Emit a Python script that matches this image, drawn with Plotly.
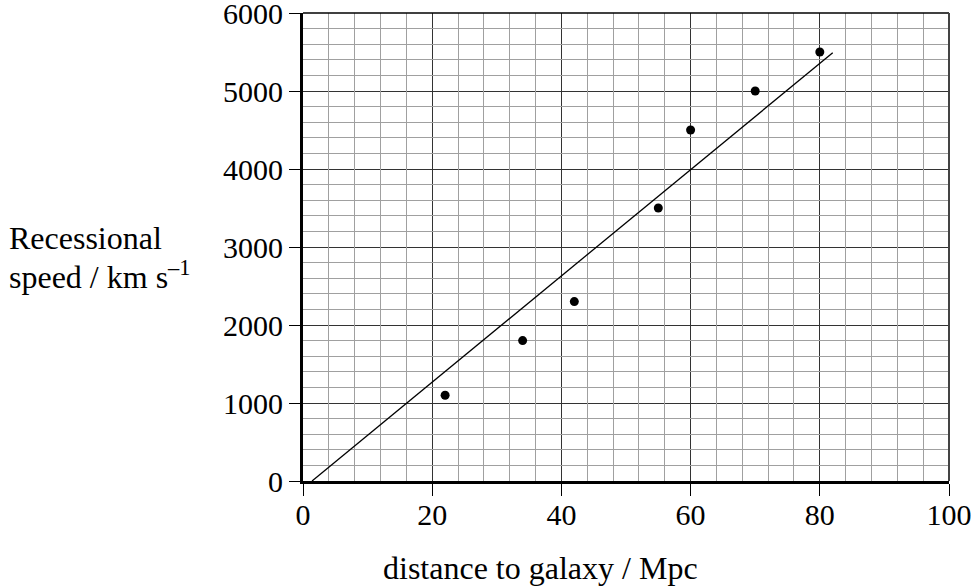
import plotly.graph_objects as go

# Data
distance_mpc = [22, 34, 42, 55, 60, 70, 80]
speed_kms = [1100, 1800, 2300, 3500, 4500, 5000, 5500]

# Best-fit line drawn by hand on the reference (end points)
fit_x = [1.4, 82]
fit_y = [0, 5490]

x_ticks = [0, 20, 40, 60, 80, 100]
y_ticks = [0, 1000, 2000, 3000, 4000, 5000, 6000]

FONT = "Liberation Serif, Times New Roman, serif"

# fine graph-paper grid (every 4 Mpc, every 200 km/s), skipping the major lines
x_minor = [v for v in range(0, 101, 4) if v % 20 != 0]
y_minor = [v for v in range(0, 6001, 200) if v % 1000 != 0]

fig = go.Figure()
# empty trace to create the overlay axes used for the fine grid
fig.add_trace(go.Scatter(x=[], y=[], xaxis="x2", yaxis="y2", showlegend=False,
                         hoverinfo="skip"))
fig.add_trace(go.Scatter(x=fit_x, y=fit_y, mode="lines",
                         line=dict(color="black", width=1.3),
                         showlegend=False, hoverinfo="skip"))
fig.add_trace(go.Scatter(x=distance_mpc, y=speed_kms, mode="markers",
                         marker=dict(color="black", size=9),
                         showlegend=False))

fig.update_layout(
    width=977, height=587,
    margin=dict(l=303, r=28, t=13, b=106),
    paper_bgcolor="white", plot_bgcolor="white",
    font=dict(family=FONT, size=30, color="black"),
    xaxis=dict(
        range=[0, 100], tickmode="array", tickvals=x_ticks, ticktext=[str(v) for v in x_ticks],
        showgrid=True, gridcolor="#333333", gridwidth=1,
        showline=True, linecolor="black", linewidth=3,
        ticks="outside", ticklen=12, tickwidth=1.2, tickcolor="black",
        zeroline=False, fixedrange=True, ticklabeloverflow="allow",
        automargin=False, ticklabelstandoff=-7,
        tickfont=dict(family=FONT, size=30, color="black"),
    ),
    yaxis=dict(
        range=[0, 6000], tickmode="array", tickvals=y_ticks, ticktext=[str(v) for v in y_ticks],
        showgrid=True, gridcolor="#333333", gridwidth=1,
        showline=True, linecolor="black", linewidth=3,
        ticks="outside", ticklen=11, tickwidth=1.2, tickcolor="black",
        zeroline=False, fixedrange=True, ticklabeloverflow="allow",
        automargin=False,
        tickfont=dict(family=FONT, size=30, color="black"),
    ),
    xaxis2=dict(
        range=[0, 100], overlaying="x", anchor="y2", tickmode="array", tickvals=x_minor,
        showgrid=True, gridcolor="#a0a0a0", gridwidth=1, showticklabels=False,
        ticks="", showline=False, zeroline=False, fixedrange=True, automargin=False,
    ),
    yaxis2=dict(
        range=[0, 6000], overlaying="y", anchor="x2", tickmode="array", tickvals=y_minor,
        showgrid=True, gridcolor="#a0a0a0", gridwidth=1, showticklabels=False,
        ticks="", showline=False, zeroline=False, fixedrange=True, automargin=False,
    ),
    annotations=[
        dict(text="Recessional",
             xref="paper", yref="paper", x=-0.458, y=0.519, xanchor="left", yanchor="middle",
             align="left", showarrow=False,
             font=dict(family=FONT, size=32, color="black")),
        dict(text="speed / km s<sup>–1</sup>",
             xref="paper", yref="paper", x=-0.458, y=0.440, xanchor="left", yanchor="middle",
             align="left", showarrow=False,
             font=dict(family=FONT, size=32, color="black")),
        dict(text="distance to galaxy / Mpc",
             xref="paper", yref="paper", x=0.368, y=-0.186, xanchor="center", yanchor="middle",
             showarrow=False,
             font=dict(family=FONT, size=32, color="black")),
    ],
)

# top and right frame lines (thin)
fig.add_shape(type="line", xref="paper", yref="paper", x0=0, x1=1, y0=1, y1=1,
              line=dict(color="black", width=1.5))
fig.add_shape(type="line", xref="paper", yref="paper", x0=1, x1=1, y0=0, y1=1,
              line=dict(color="#444444", width=2))

fig.write_html("out.html", config={"displayModeBar": False},
               post_script="document.body.style.margin='0';document.body.style.overflow='hidden';")
